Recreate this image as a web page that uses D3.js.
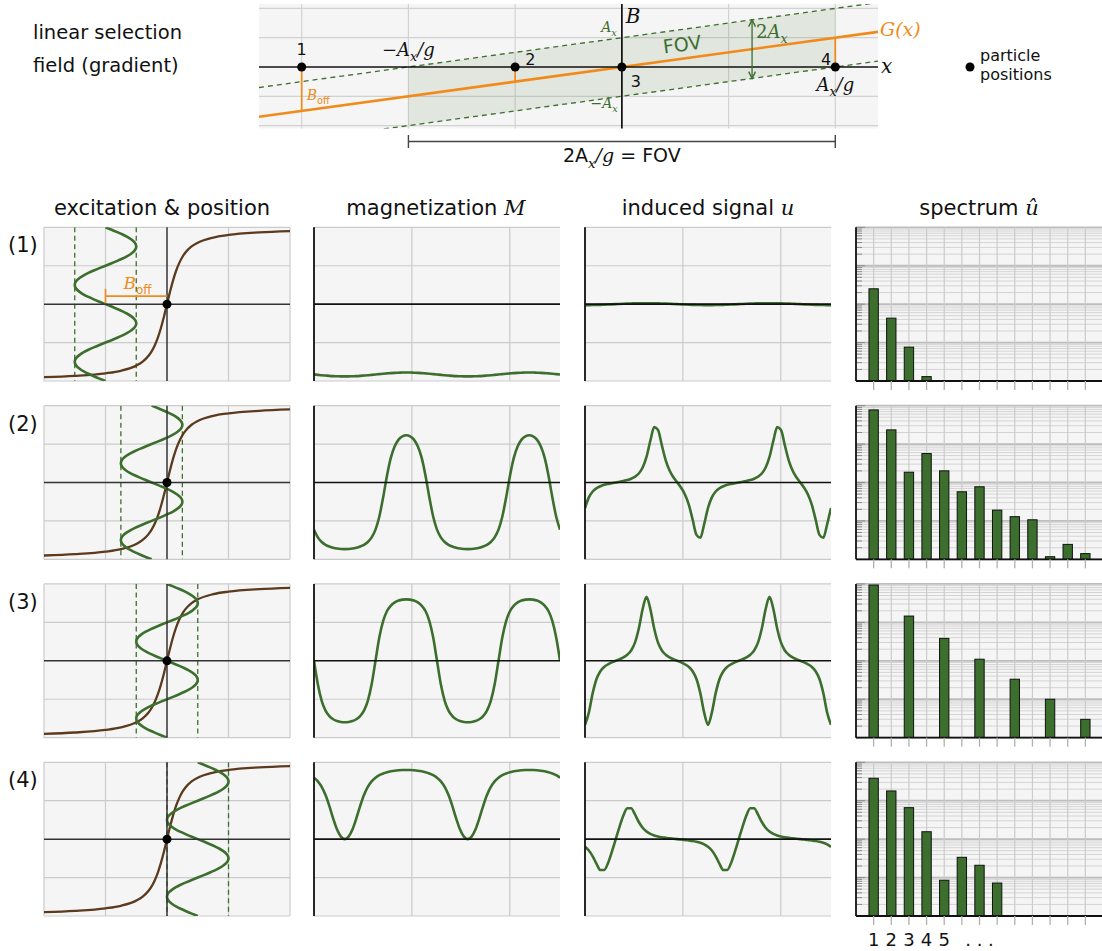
<!DOCTYPE html>
<html>
<head>
<meta charset="utf-8">
<script src="https://cdn.jsdelivr.net/npm/d3@7"></script>
<style>
  body { margin: 0; background: #fff; }
</style>
</head>
<body>
<svg id="chart" width="1102" height="951"></svg>
<script>
// ---------- data ----------
const rowLabels = ["(1)", "(2)", "(3)", "(4)"];

// top sketch: particle positions (grid units, A_x/g = 2) and field gradient
const particlePos = [-3, -1, 0, 2];
const particleNames = ["1", "2", "3", "4"];
const gradient = 0.5;      // G(x) = gradient * x
const driveAmp = 1;        // A_x in the units of the sketch
const arrowAt = 1.22;      // x of the 2A_x arrow

// excitation: centre of the drive field per row and its amplitude
const fieldOffset = [-1, -0.25, 0, 0.5];
const excAmp = 0.5;
// drive waveform over one period, step pi/16 (field units)
const excWave = [0, -0.098, -0.191, -0.278, -0.354, -0.416, -0.462, -0.490, -0.5, -0.490, -0.462, -0.416, -0.354, -0.278, -0.191, -0.098,
                 0, 0.098, 0.191, 0.278, 0.354, 0.416, 0.462, 0.490, 0.5, 0.490, 0.462, 0.416, 0.354, 0.278, 0.191, 0.098];

// particle magnetisation curve (brown)
const langB = [-2, -1.5, -1, -0.75, -0.5, -0.4, -0.3, -0.25, -0.2, -0.15, -0.1, -0.05, 0, 0.05, 0.1, 0.15, 0.2, 0.25, 0.3, 0.4, 0.5, 0.75, 1, 1.5, 2];
const langM = [-0.95, -0.933, -0.9, -0.867, -0.8, -0.751, -0.672, -0.614, -0.537, -0.438, -0.313, -0.164, 0, 0.164, 0.313, 0.438, 0.537, 0.614, 0.672, 0.751, 0.8, 0.867, 0.9, 0.933, 0.95];

// magnetization M over one period, step pi/16
const magRows = [
  [-0.915, -0.920, -0.925, -0.929, -0.933, -0.936, -0.938, -0.940, -0.940, -0.940, -0.938, -0.936, -0.933, -0.929, -0.925, -0.920,
   -0.915, -0.910, -0.905, -0.901, -0.897, -0.894, -0.892, -0.890, -0.890, -0.890, -0.892, -0.894, -0.897, -0.901, -0.905, -0.910],
  [-0.614, -0.714, -0.774, -0.811, -0.834, -0.850, -0.860, -0.865, -0.867, -0.865, -0.860, -0.850, -0.834, -0.811, -0.774, -0.714,
   -0.614, -0.443, -0.191, 0.092, 0.323, 0.471, 0.558, 0.601, 0.614, 0.601, 0.558, 0.471, 0.323, 0.092, -0.191, -0.443],
  [0, -0.306, -0.521, -0.648, -0.719, -0.760, -0.784, -0.796, -0.800, -0.796, -0.784, -0.760, -0.719, -0.648, -0.521, -0.306,
   0, 0.306, 0.521, 0.648, 0.719, 0.760, 0.784, 0.796, 0.800, 0.796, 0.784, 0.760, 0.719, 0.648, 0.521, 0.306],
  [0.800, 0.752, 0.680, 0.574, 0.430, 0.268, 0.125, 0.032, 0, 0.032, 0.125, 0.268, 0.430, 0.574, 0.680, 0.752,
   0.800, 0.833, 0.855, 0.871, 0.883, 0.891, 0.896, 0.899, 0.900, 0.899, 0.896, 0.891, 0.883, 0.871, 0.855, 0.833]
];

// induced signal u over one period, step pi/16
const signalRows = [
  [-0.0125, -0.0123, -0.0115, -0.0104, -0.0088, -0.0069, -0.0048, -0.0024, 0, 0.0024, 0.0048, 0.0069, 0.0088, 0.0104, 0.0115, 0.0123,
   0.0125, 0.0123, 0.0115, 0.0104, 0.0088, 0.0069, 0.0048, 0.0024, 0, -0.0024, -0.0048, -0.0069, -0.0088, -0.0104, -0.0115, -0.0123],
  [-0.332, -0.194, -0.117, -0.075, -0.049, -0.031, -0.019, -0.009, 0, 0.009, 0.019, 0.031, 0.049, 0.075, 0.117, 0.194,
   0.332, 0.543, 0.720, 0.682, 0.482, 0.288, 0.156, 0.068, 0, -0.068, -0.156, -0.288, -0.482, -0.682, -0.720, -0.543],
  [-0.833, -0.674, -0.421, -0.237, -0.135, -0.079, -0.045, -0.020, 0, 0.020, 0.045, 0.079, 0.135, 0.237, 0.421, 0.674,
   0.833, 0.674, 0.421, 0.237, 0.135, 0.079, 0.045, 0.020, 0, -0.020, -0.045, -0.079, -0.135, -0.237, -0.421, -0.674],
  [-0.100, -0.148, -0.223, -0.321, -0.402, -0.401, -0.310, -0.162, 0, 0.162, 0.310, 0.401, 0.402, 0.321, 0.223, 0.148,
   0.100, 0.069, 0.048, 0.034, 0.024, 0.017, 0.010, 0.005, 0, -0.005, -0.010, -0.017, -0.024, -0.034, -0.048, -0.069]
];

// spectrum |u^| per harmonic 1..13 (null = not shown)
const specRows = [
  [0.0251, 0.00432, 0.00076, 0.00013],
  [0.773, 0.234, 0.0185, 0.0566, 0.0201, 0.00573, 0.00773, 0.00191, 0.00129, 0.00107, 0.000117, 0.000245, 0.000141],
  [0.94, null, 0.146, null, 0.0383, null, 0.0110, null, 0.00332, null, 0.0010, null, 0.00030],
  [0.384, 0.1795, 0.0659, 0.0156, 0.00085, 0.00337, 0.00209, 0.00072]
];
const specTickLabels = ["1", "2", "3", "4", "5", ". . ."];
const specTickAt = [1, 2, 3, 4, 5, 7];

// ---------- styling / layout ----------
const SANS = "'DejaVu Sans', sans-serif";
const SERIF = "'DejaVu Serif', serif";
const C = { bg: "#f5f5f5", grid: "#cbcbcb", green: "#3c6e2d", brown: "#5b3a1e", orange: "#f28a1a", axis: "#111" };
const rowTop0 = 227.3, rowStep = 178.33, rowH = 153.7;
const colX = [[44, 290], [314, 560], [585, 831], [856, 1103]];
const dt = Math.PI / 16;
const span = 4 * Math.PI;

const svg = d3.select("#chart");
const defs = svg.append("defs");
let clipN = 0;

function panel(x0, x1, y0, y1) {
  const id = "clip" + (clipN++);
  defs.append("clipPath").attr("id", id).append("rect")
    .attr("x", x0).attr("y", y0).attr("width", x1 - x0).attr("height", y1 - y0);
  const g = svg.append("g");
  g.append("rect").attr("x", x0).attr("y", y0).attr("width", x1 - x0).attr("height", y1 - y0).attr("fill", C.bg);
  const grid = g.append("g");
  const inner = g.append("g").attr("clip-path", `url(#${id})`);
  return { g, grid, inner };
}

function hLines(sel, ys, x0, x1, color, w) {
  return sel.selectAll(null).data(ys).join("line")
    .attr("x1", x0).attr("x2", x1).attr("y1", d => d).attr("y2", d => d)
    .attr("stroke", color).attr("stroke-width", w);
}
function vLines(sel, xs, y0, y1, color, w) {
  return sel.selectAll(null).data(xs).join("line")
    .attr("x1", d => d).attr("x2", d => d).attr("y1", y0).attr("y2", y1)
    .attr("stroke", color).attr("stroke-width", w);
}

function rich(g, x, y, parts, o = {}) {
  const size = o.size || 19;
  const t = g.append("text").attr("x", x).attr("y", y).attr("font-size", size)
    .attr("fill", o.fill || "#111").attr("text-anchor", o.anchor || "start");
  if (o.rotate) t.attr("transform", `rotate(${o.rotate},${x},${y})`);
  let shift = 0;
  parts.forEach(p => {
    const s = t.append("tspan").text(p.t);
    if (p.m) s.attr("font-family", SERIF).attr("font-style", "italic");
    else if (p.r) s.attr("font-family", SERIF);
    else s.attr("font-family", SANS);
    const want = p.sub ? size * 0.3 : 0;
    if (want !== shift) { s.attr("dy", want - shift); shift = want; }
    if (p.sub) s.attr("font-size", size * 0.7);
  });
  return t;
}

// two periods built from the one-period samples
function twoPeriods(values) {
  return d3.range(65).map(k => [k * dt, values[k % 32]]);
}

// ---------- header text ----------
rich(svg, 33, 39, [{ t: "linear selection" }], { size: 19.5 });
rich(svg, 33, 72, [{ t: "field (gradient)" }], { size: 19.5 });

svg.append("circle").attr("cx", 970).attr("cy", 67).attr("r", 4.5).attr("fill", "#000");
rich(svg, 980, 61, [{ t: "particle" }], { size: 16 });
rich(svg, 980, 80, [{ t: "positions" }], { size: 16 });

// ---------- top sketch ----------
{
  const x = d3.scaleLinear().domain([-3.4, 2.4]).range([259, 878]);
  const y = d3.scaleLinear().domain([-2.1, 2.15]).range([128.5, 4]);
  const p = panel(259, 878, 4, 128.5);
  vLines(p.grid, [-3, -2, -1, 0, 1, 2].map(x), 4, 128.5, "#d2d2d2", 1.2);
  hLines(p.grid, [-2, -1, 1, 2].map(y), 259, 878, "#d2d2d2", 1.2);

  const fovHalf = driveAmp / gradient;
  const fov = [[-fovHalf, -gradient * fovHalf + driveAmp], [fovHalf, gradient * fovHalf + driveAmp],
               [fovHalf, gradient * fovHalf - driveAmp], [-fovHalf, -gradient * fovHalf - driveAmp]];
  p.inner.append("polygon").attr("points", fov.map(d => [x(d[0]), y(d[1])].join(",")).join(" "))
    .attr("fill", C.green).attr("fill-opacity", 0.11);

  const dom = x.domain();
  [driveAmp, -driveAmp].forEach(off => {
    p.inner.append("line")
      .attr("x1", x(dom[0])).attr("y1", y(gradient * dom[0] + off))
      .attr("x2", x(dom[1])).attr("y2", y(gradient * dom[1] + off))
      .attr("stroke", C.green).attr("stroke-width", 1.3).attr("stroke-dasharray", "5,4");
  });

  // axes
  p.g.append("line").attr("x1", 259).attr("x2", 878).attr("y1", y(0)).attr("y2", y(0)).attr("stroke", C.axis).attr("stroke-width", 1.7);
  p.g.append("line").attr("x1", x(0)).attr("x2", x(0)).attr("y1", 4).attr("y2", 128.5).attr("stroke", C.axis).attr("stroke-width", 1.7);

  // field offsets at the particles
  p.inner.selectAll(null).data(particlePos.filter(d => d !== 0)).join("line")
    .attr("x1", d => x(d)).attr("x2", d => x(d)).attr("y1", y(0)).attr("y2", d => y(gradient * d))
    .attr("stroke", C.orange).attr("stroke-width", 1.7);
  p.inner.append("line")
    .attr("x1", x(dom[0])).attr("y1", y(gradient * dom[0]))
    .attr("x2", x(dom[1])).attr("y2", y(gradient * dom[1]))
    .attr("stroke", C.orange).attr("stroke-width", 2.6);

  // 2A_x arrow
  defs.append("marker").attr("id", "arr").attr("viewBox", "0 0 8 8").attr("refX", 7).attr("refY", 4)
    .attr("markerWidth", 7).attr("markerHeight", 7).attr("orient", "auto-start-reverse")
    .append("path").attr("d", "M1,1 L7,4 L1,7").attr("fill", "none").attr("stroke", C.green).attr("stroke-width", 1.2);
  svg.append("line")
    .attr("x1", x(arrowAt)).attr("x2", x(arrowAt))
    .attr("y1", y(gradient * arrowAt - driveAmp)).attr("y2", y(gradient * arrowAt + driveAmp))
    .attr("stroke", C.green).attr("stroke-width", 1.3)
    .attr("marker-start", "url(#arr)").attr("marker-end", "url(#arr)");

  svg.selectAll(null).data(particlePos).join("circle")
    .attr("cx", d => x(d)).attr("cy", y(0)).attr("r", 4.5).attr("fill", "#000");

  // labels
  const nameAt = [[0, 55, "middle"], [10, 65, "start"], [9, 87, "start"], [-4, 65, "end"]];
  particlePos.forEach((d, i) => {
    rich(svg, x(d) + nameAt[i][0], nameAt[i][1], [{ t: particleNames[i] }], { size: 16, anchor: nameAt[i][2] });
  });
  rich(svg, x(0) + 4, 23, [{ t: "B", m: true }], { size: 20 });
  rich(svg, 881, 73, [{ t: "x", m: true }], { size: 20 });
  rich(svg, 880, 36, [{ t: "G(x)", m: true }], { size: 19, fill: C.orange });
  rich(svg, x(0) - 5, y(driveAmp) - 6, [{ t: "A", m: true }, { t: "x", m: true, sub: true }], { size: 14, fill: C.green, anchor: "end" });
  rich(svg, x(0) - 4, y(-driveAmp) + 12, [{ t: "−", r: true }, { t: "A", m: true }, { t: "x", m: true, sub: true }], { size: 14, fill: C.green, anchor: "end" });
  rich(svg, 683, 51, [{ t: "FOV" }], { size: 19, fill: C.green, anchor: "middle", rotate: -7.8 });
  rich(svg, x(arrowAt) + 4, 38, [{ t: "2", r: true }, { t: "A", m: true }, { t: "x", m: true, sub: true }], { size: 18, fill: C.green });
  rich(svg, x(-fovHalf), 56, [{ t: "−", r: true }, { t: "A", m: true }, { t: "x", m: true, sub: true }, { t: "/g", m: true }], { size: 18, anchor: "middle" });
  rich(svg, x(fovHalf), 91, [{ t: "A", m: true }, { t: "x", m: true, sub: true }, { t: "/g", m: true }], { size: 18, anchor: "middle" });
  rich(svg, x(particlePos[0]) + 5, 100, [{ t: "B", m: true }, { t: "off", sub: true }], { size: 14, fill: C.orange });

  // FOV bracket
  const by = 141.5;
  svg.append("line").attr("x1", x(-fovHalf)).attr("x2", x(fovHalf)).attr("y1", by).attr("y2", by).attr("stroke", "#444").attr("stroke-width", 1.4);
  vLines(svg, [x(-fovHalf), x(fovHalf)], by - 6.5, by + 6.5, "#444", 1.4);
  rich(svg, x(0), 162, [{ t: "2A" }, { t: "x", m: true, sub: true }, { t: "/g", m: true }, { t: " = FOV" }], { size: 19, anchor: "middle" });
}

// ---------- column titles ----------
rich(svg, 162, 215, [{ t: "excitation & position" }], { size: 21, anchor: "middle" });
rich(svg, 436, 215, [{ t: "magnetization " }, { t: "M", m: true }], { size: 21, anchor: "middle" });
rich(svg, 708, 215, [{ t: "induced signal " }, { t: "u", m: true }], { size: 21, anchor: "middle" });
rich(svg, 979, 215, [{ t: "spectrum " }, { t: "û", m: true }], { size: 21, anchor: "middle" });

// ---------- rows ----------
const lineXY = (x, y) => d3.line().x(d => x(d[0])).y(d => y(d[1])).curve(d3.curveMonotoneX);

rowLabels.forEach((lab, i) => {
  const top = rowTop0 + i * rowStep, bot = top + rowH;
  rich(svg, 8, top + 25, [{ t: lab }], { size: 21 });

  // excitation & position
  {
    const [x0, x1] = colX[0];
    const x = d3.scaleLinear().domain([-2, 2]).range([x0, x1]);
    const y = d3.scaleLinear().domain([-1, 1]).range([bot, top]);
    const ty = d3.scaleLinear().domain([0, span]).range([bot, top]);
    const p = panel(x0, x1, top, bot);
    vLines(p.grid, [-2, -1, 1, 2].map(x), top, bot, C.grid, 1.2);
    hLines(p.grid, [-1, -0.5, 0.5, 1].map(y), x0, x1, C.grid, 1.2);
    hLines(p.g, [y(0)], x0, x1, "#333", 1.5);
    vLines(p.g, [x(0)], top, bot, "#333", 1.5);

    const off = fieldOffset[i];
    vLines(p.inner, [off - excAmp, off + excAmp].map(x), top, bot, C.green, 1.3)
      .attr("stroke-dasharray", "5,3.5");

    p.inner.append("path")
      .datum(langB.map((b, k) => [b, langM[k]]))
      .attr("d", lineXY(x, y)).attr("fill", "none").attr("stroke", C.brown).attr("stroke-width", 2.3);

    p.inner.append("path")
      .datum(twoPeriods(excWave))
      .attr("d", d3.line().x(d => x(off + d[1])).y(d => ty(d[0])).curve(d3.curveNatural))
      .attr("fill", "none").attr("stroke", C.green).attr("stroke-width", 2.6);

    if (i === 0) {
      const yb = y(0.104);
      p.g.append("line").attr("x1", x(off)).attr("x2", x(0)).attr("y1", yb).attr("y2", yb).attr("stroke", C.orange).attr("stroke-width", 1.6);
      p.g.append("line").attr("x1", x(off)).attr("x2", x(off)).attr("y1", y(0.2)).attr("y2", y(0.01)).attr("stroke", C.orange).attr("stroke-width", 1.6);
      rich(p.g, x(off) + 18, y(0.2), [{ t: "B", m: true }, { t: "off", sub: true }], { size: 17, fill: C.orange });
    }
    p.g.append("circle").attr("cx", x(0)).attr("cy", y(0)).attr("r", 4.5).attr("fill", "#000");
  }

  // magnetization and induced signal
  [[colX[1], magRows[i]], [colX[2], signalRows[i]]].forEach(([[x0, x1], vals]) => {
    const x = d3.scaleLinear().domain([0, span]).range([x0, x1]);
    const y = d3.scaleLinear().domain([-1, 1]).range([bot, top]);
    const p = panel(x0, x1, top, bot);
    vLines(p.grid, [5, 10].map(x), top, bot, C.grid, 1.2);
    hLines(p.grid, [-1, -0.5, 0.5, 1].map(y), x0, x1, C.grid, 1.2);
    hLines(p.g, [y(0)], x0, x1, C.axis, 1.6);
    vLines(p.g, [x0], top, bot, C.axis, 1.8);
    p.inner.append("path").datum(twoPeriods(vals))
      .attr("d", lineXY(x, y)).attr("fill", "none").attr("stroke", C.green).attr("stroke-width", 2.6);
  });

  // spectrum
  {
    const [x0, x1] = colX[3];
    const x = d3.scaleLinear().domain([0, 14]).range([x0, x1]);
    const y = d3.scaleLog().domain([1e-4, 1]).range([bot, top]);
    const p = panel(x0, x1, top, bot);
    const minors = [], majors = [1e-4, 1e-3, 1e-2, 1e-1, 1];
    [1e-4, 1e-3, 1e-2, 1e-1].forEach(dec => d3.range(2, 10).forEach(m => minors.push(dec * m)));
    hLines(p.grid, minors.map(y), x0, x1, "#d4d4d4", 1);
    hLines(p.grid, majors.map(y), x0, x1, "#bdbdbd", 1.8);
    const harm = d3.range(1, 14);
    vLines(p.grid, harm.map(x), top, bot, C.grid, 1.2);
    // inner ticks on the value axis
    p.g.selectAll(null).data(minors.concat(majors)).join("line")
      .attr("x1", x0).attr("x2", d => x0 + (majors.includes(d) ? 9 : 6))
      .attr("y1", d => y(d)).attr("y2", d => y(d)).attr("stroke", "#8a8a8a").attr("stroke-width", 1);

    const bw = x(0.53) - x(0);
    const bars = specRows[i].map((v, k) => ({ n: k + 1, v })).filter(d => d.v != null && d.v > 1e-4);
    p.inner.selectAll(null).data(bars).join("rect")
      .attr("x", d => x(d.n) - bw / 2).attr("width", bw)
      .attr("y", d => y(d.v)).attr("height", d => bot - y(d.v))
      .attr("fill", C.green).attr("stroke", "#111").attr("stroke-width", 1);

    vLines(svg, harm.map(x), bot, bot + 9, "#b0b0b0", 1.3);
    hLines(p.g, [bot], x0, x1, C.axis, 1.8);
    vLines(p.g, [x0], top, bot, C.axis, 1.8);

    if (i === rowLabels.length - 1) {
      specTickLabels.forEach((t, k) => {
        rich(svg, x(specTickAt[k]), bot + 30, [{ t }], { size: 18, anchor: "middle" });
      });
    }
  }
});
</script>
</body>
</html>
